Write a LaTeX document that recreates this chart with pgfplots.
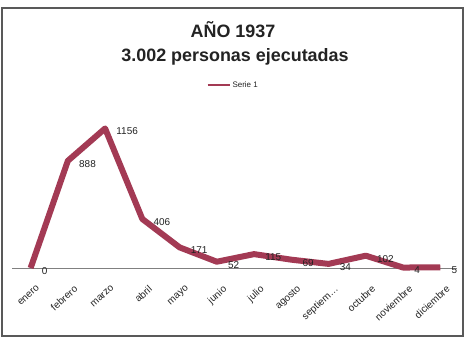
\documentclass[border=0pt]{standalone}
\usepackage{pgfplots}
\pgfplotsset{compat=1.18}
\usepackage{fontspec}
\setmainfont{Liberation Sans}
\definecolor{serie}{RGB}{163,58,84}
\definecolor{txt}{RGB}{35,35,35}
\begin{document}
\begin{tikzpicture}[x=1bp,y=1bp]
\useasboundingbox (0,0) rectangle (468,354);
\fill[white] (0,0) rectangle (468,354);
\draw[gray!70!black, line width=1.5bp] (2,18) rectangle (463,346);
\begin{axis}[
  at={(12bp,86bp)}, anchor=south west,
  scale only axis, width=445bp, height=169bp,
  xmin=-0.5, xmax=11.45, ymin=0, ymax=1400,
  axis x line*=bottom, axis y line=none,
  axis line style={gray, line width=1bp},
  xtick={0,1,2,3,4,5,6,7,8,9,10,11},
  xticklabels={enero,febrero,marzo,abril,mayo,junio,julio,agosto,{septiem\ldots},octubre,noviembre,diciembre},
  major tick length=0pt,
  x tick label style={rotate=42, anchor=north east, font=\fontsize{10}{10}\selectfont, text=txt, inner sep=1bp, yshift=-15bp, xshift=-6bp},
  ytick=\empty,
  clip=false,
  /pgf/number format/.cd, 1000 sep={}, assume math mode=true, /pgfplots/.cd,
  nodes near coords,
  every node near coord/.append style={anchor=west, xshift=5bp, yshift=-3bp, font=\fontsize{10}{10}\selectfont, text=txt},
  legend style={at={(0.497,1.083)}, anchor=center, draw=none, fill=none, font=\fontsize{8}{8}\selectfont, text=txt, inner sep=1bp},
  legend image code/.code={\draw[serie, line width=2bp] (0bp,0bp) -- (22bp,0bp);},
]
\addplot[serie, line width=6bp, line join=round, mark=none] coordinates {
(0,0) (1,888) (2,1156) (3,406) (4,171) (5,52) (6,115) (7,69) (8,34) (9,102) (10,4) (11,5)};
\addlegendentry{Serie 1}
\end{axis}
\node[font=\bfseries\fontsize{18}{18}\selectfont, text=txt] at (233,324) {AÑO 1937};
\node[font=\bfseries\fontsize{18}{18}\selectfont, text=txt] at (235,297) {3.002 personas ejecutadas};
\end{tikzpicture}
\end{document}
